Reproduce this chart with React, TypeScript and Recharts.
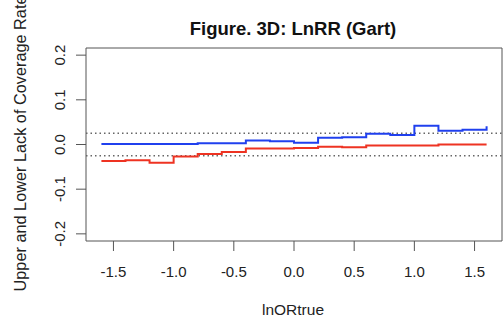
import { Line, LineChart, ReferenceArea, ReferenceLine, XAxis, YAxis } from 'recharts';

// true log odds ratio grid
const lnOR = [-1.6, -1.4, -1.2, -1.0, -0.8, -0.6, -0.4, -0.2, 0.0, 0.2, 0.4, 0.6, 0.8, 1.0, 1.2, 1.4, 1.6];

// upper lack of coverage (blue) and lower lack of coverage (red)
const upperLack = [0.001, 0.001, 0.001, 0.001, 0.003, 0.003, 0.009, 0.007, 0.004, 0.015, 0.016, 0.024, 0.021, 0.042, 0.031, 0.033, 0.041];
const lowerLack = [-0.037, -0.035, -0.041, -0.027, -0.021, -0.017, -0.009, -0.009, -0.008, -0.005, -0.006, -0.002, -0.002, -0.002, 0.0, 0.0, 0.0];

const xTicks = [-1.5, -1.0, -0.5, 0.0, 0.5, 1.0, 1.5];
const yTicks = [-0.2, -0.1, 0.0, 0.1, 0.2];
const nominalBand = [-0.025, 0.025];

const xDomain: [number, number] = [-1.728, 1.728];
const yDomain: [number, number] = [-0.216, 0.216];

const data = lnOR.map((x, i) => ({ x, upper: upperLack[i], lower: lowerLack[i] }));

const font = '"Liberation Sans", Arial, Helvetica, sans-serif';

function XTick({ x, y, payload }: any) {
  return (
    <text x={x} y={y + 24} textAnchor="middle" fontSize={15} fill="#222" fontFamily={font}>
      {payload.value.toFixed(1)}
    </text>
  );
}

function YTick({ y, payload }: any) {
  return (
    <text
      transform={`translate(65,${y}) rotate(-90)`}
      textAnchor="middle"
      fontSize={15}
      fill="#222"
      fontFamily={font}
    >
      {payload.value.toFixed(1)}
    </text>
  );
}

export default function App() {
  return (
    <div style={{ position: 'fixed', left: 0, top: 0, width: 503, height: 324, background: '#fff' }}>
      <svg width={503} height={324} style={{ position: 'absolute', left: 0, top: 0 }}>
        <text x={293} y={35} textAnchor="middle" fontSize={18.5} fontWeight="bold" fill="#111" fontFamily={font}>
          Figure. 3D: LnRR (Gart)
        </text>
        <text x={293} y={315} textAnchor="middle" fontSize={15.5} fill="#222" fontFamily={font}>
          lnORtrue
        </text>
        <text
          transform="translate(26,143.5) rotate(-90)"
          textAnchor="middle"
          fontSize={16.3}
          fill="#222"
          fontFamily={font}
        >
          Upper and Lower Lack of Coverage Rate
        </text>
      </svg>
      <div style={{ position: 'absolute', left: 0, top: 0 }}>
        <LineChart width={503} height={324} data={data} margin={{ top: 48, right: 1, bottom: 0, left: 0 }}>
          <XAxis
            dataKey="x"
            type="number"
            domain={xDomain}
            ticks={xTicks}
            allowDataOverflow
            height={83}
            tickSize={10}
            axisLine={false}
            tickLine={{ stroke: '#555' }}
            tick={<XTick />}
          />
          <YAxis
            type="number"
            domain={yDomain}
            ticks={yTicks}
            allowDataOverflow
            width={86}
            tickSize={10}
            axisLine={false}
            tickLine={{ stroke: '#555' }}
            tick={<YTick />}
          />
          <ReferenceArea
            x1={xDomain[0]}
            x2={xDomain[1]}
            y1={yDomain[0]}
            y2={yDomain[1]}
            fill="none"
            stroke="#555"
            strokeWidth={1}
            ifOverflow="visible"
          />
          {nominalBand.map((v) => (
            <ReferenceLine key={v} y={v} stroke="#666" strokeWidth={1.5} strokeDasharray="1.5 3" />
          ))}
          <Line
            type="stepAfter"
            dataKey="lower"
            stroke="#ee3322"
            strokeWidth={2}
            dot={false}
            isAnimationActive={false}
          />
          <Line
            type="stepAfter"
            dataKey="upper"
            stroke="#2040ee"
            strokeWidth={2}
            dot={false}
            isAnimationActive={false}
          />
        </LineChart>
      </div>
    </div>
  );
}
